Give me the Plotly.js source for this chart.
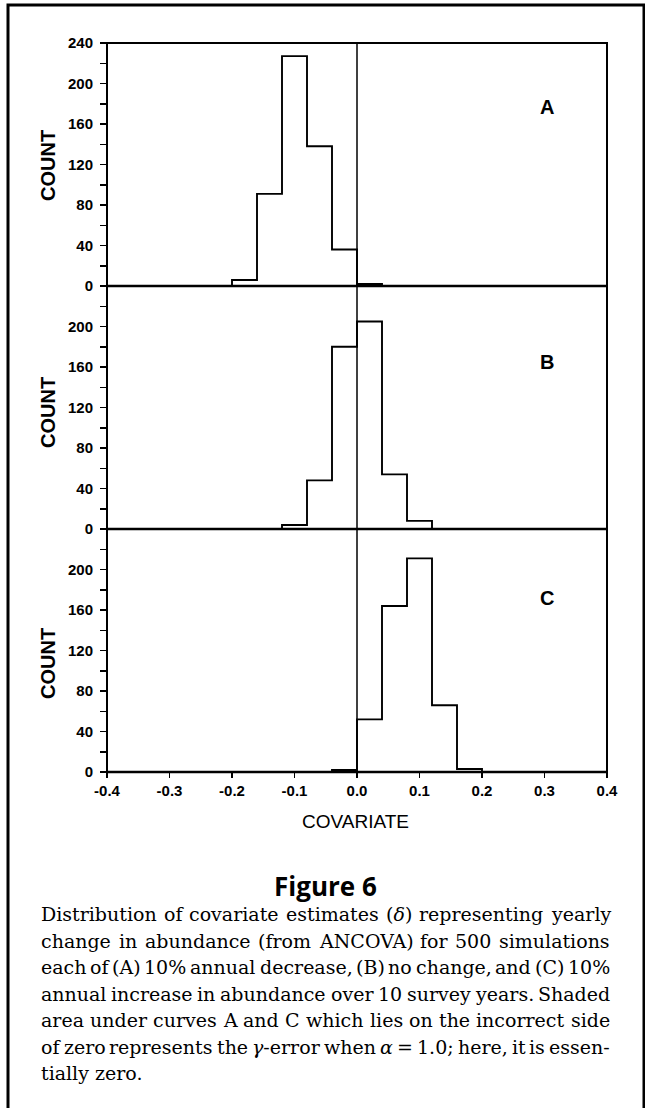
<!DOCTYPE html>
<html>
<head>
<meta charset="utf-8">
<script src="https://cdn.plot.ly/plotly-3.0.1.min.js"></script>
<style>
html,body{margin:0;padding:0;background:#fff;}
#chart{width:645px;height:1108px;}
</style>
</head>
<body>
<div id="chart"></div>
<script>
// ---- data ----
const edgesA = [-0.2, -0.16, -0.12, -0.08, -0.04, 0, 0.04];
const countsA = [6, 91, 227, 138, 36, 2];
const edgesB = [-0.12, -0.08, -0.04, 0, 0.04, 0.08, 0.12];
const countsB = [4, 48, 180, 205, 54, 8];
const edgesC = [-0.04, 0, 0.04, 0.08, 0.12, 0.16, 0.2];
const countsC = [2, 52, 164, 211, 66, 3];

const xTickVals = [-0.4, -0.3, -0.2, -0.1, 0.0, 0.1, 0.2, 0.3, 0.4];
const xTickText = ["-0.4", "-0.3", "-0.2", "-0.1", "0.0", "0.1", "0.2", "0.3", "0.4"];
const yTicksTop = [0, 40, 80, 120, 160, 200, 240];
const yTicksLower = [0, 40, 80, 120, 160, 200];
const yMinorTicks = [20, 60, 100, 140, 180, 220];
const panelLabels = ["A", "B", "C"];
const yTitle = "COUNT";
const xTitle = "COVARIATE";
const captionTitle = "Figure 6";
const captionLines = [
  "Distribution of covariate estimates (<i>δ</i>) representing yearly",
  "change in abundance (from ANCOVA) for 500 simulations",
  "each of (A) 10% annual decrease, (B) no change, and (C) 10%",
  "annual increase in abundance over 10 survey years. Shaded",
  "area under curves A and C which lies on the incorrect side",
  "of zero represents the <i>γ</i>-error when <i>α</i> = 1.0; here, it is essen-",
  "tially zero."
];

// ---- geometry ----
const W = 645, H = 1108;
const L = 107, R = 607, T = 43, B = 772;
const px = x => (x - L) / (R - L);
const py = y => (B - y) / (B - T);

function stepTrace(edges, counts, yaxis) {
  return {
    type: 'scatter', mode: 'lines',
    x: [edges[0]].concat(edges),
    y: [0].concat(counts, [0]),
    line: {shape: 'hv', color: '#000', width: 1.9},
    xaxis: 'x', yaxis: yaxis, hoverinfo: 'skip', showlegend: false
  };
}

const traces = [
  stepTrace(edgesA, countsA, 'y3'),
  stepTrace(edgesB, countsB, 'y2'),
  stepTrace(edgesC, countsC, 'y')
];

const sans = 'Liberation Sans, Arial, sans-serif';
const tickFont = {family: sans, size: 15, color: '#000', weight: 'bold'};

function yAxis(domain, tickvals) {
  return {
    domain: domain, range: [0, 240], anchor: 'x',
    tickmode: 'array', tickvals: tickvals,
    ticks: 'outside', ticklen: 6, tickwidth: 1.5, tickcolor: '#000',
    minor: {tickmode: 'array', tickvals: yMinorTicks, ticks: 'outside', ticklen: 6, tickwidth: 1.5, tickcolor: '#000'},
    showgrid: false, zeroline: false, showline: false,
    tickfont: tickFont, ticklabelstandoff: 4, fixedrange: true
  };
}

const annotations = [];
// COUNT titles
[166, 413, 664].forEach(yc => {
  annotations.push({xref: 'paper', yref: 'paper', x: px(48), y: py(yc), text: yTitle,
    textangle: -90, showarrow: false, xanchor: 'center', yanchor: 'middle',
    font: {family: sans, size: 20, color: '#000', weight: 'bold'}});
});
// panel letters
[[107, 0], [362, 1], [598, 2]].forEach(([yc, i]) => {
  annotations.push({xref: 'paper', yref: 'paper', x: px(547), y: py(yc), text: panelLabels[i],
    showarrow: false, xanchor: 'center', yanchor: 'middle',
    font: {family: sans, size: 20, color: '#000', weight: 'bold'}});
});
// x title
annotations.push({xref: 'paper', yref: 'paper', x: px(355), y: py(821), text: xTitle,
  showarrow: false, xanchor: 'center', yanchor: 'middle',
  font: {family: sans, size: 19, color: '#000'}});
// caption title
annotations.push({xref: 'paper', yref: 'paper', x: px(325), y: py(886), text: captionTitle,
  showarrow: false, xanchor: 'center', yanchor: 'middle',
  font: {family: 'Open Sans, Liberation Sans, sans-serif', size: 26, color: '#000', weight: 'bold'}});

// caption body, justified word by word
const capLeft = 40, capRight = 609, capTop = 914, capStep = 26.5;
let capSize = 19;
const capFamily = 'DejaVu Serif';
const cv = document.createElement('canvas').getContext('2d');
const strip = s => s.replace(/<[^>]+>/g, '');
function measure(s, size) { cv.font = size + "px '" + capFamily + "'"; return cv.measureText(strip(s)).width; }
// shrink if a justified line would not fit
for (let k = 0; k < 20; k++) {
  let ok = true;
  captionLines.slice(0, -1).forEach(line => {
    const words = line.split(' ');
    const tot = words.reduce((a, w) => a + measure(w, capSize), 0);
    if (tot + (words.length - 1) * capSize * 0.18 > capRight - capLeft) ok = false;
  });
  if (ok) break;
  capSize -= 0.25;
}
captionLines.forEach((line, li) => {
  const words = line.split(' ');
  const widths = words.map(w => measure(w, capSize));
  const tot = widths.reduce((a, b) => a + b, 0);
  const justify = li < captionLines.length - 1;
  const gap = justify ? (capRight - capLeft - tot) / (words.length - 1) : measure(' ', capSize);
  let x = capLeft;
  words.forEach((w, wi) => {
    annotations.push({xref: 'paper', yref: 'paper', x: px(x), y: py(capTop + li * capStep), text: w,
      showarrow: false, xanchor: 'left', yanchor: 'middle', borderpad: 0,
      font: {family: capFamily, size: capSize, color: '#000'}});
    x += widths[wi] + gap;
  });
});

const shapes = [
  {type: 'rect', xref: 'paper', yref: 'paper', x0: 0, x1: 1, y0: 0, y1: 1, line: {color: '#000', width: 2}},
  {type: 'line', xref: 'paper', yref: 'paper', x0: 0, x1: 1, y0: 1/3, y1: 1/3, line: {color: '#000', width: 2.5}},
  {type: 'line', xref: 'paper', yref: 'paper', x0: 0, x1: 1, y0: 2/3, y1: 2/3, line: {color: '#000', width: 2.5}},
  {type: 'line', xref: 'paper', yref: 'paper', x0: 0, x1: 1, y0: 0, y1: 0, line: {color: '#000', width: 2.5}},
  {type: 'line', xref: 'x', yref: 'paper', x0: 0, x1: 0, y0: 0, y1: 1, line: {color: '#000', width: 1.5}},
  {type: 'rect', xref: 'paper', yref: 'paper', x0: px(8), x1: px(644), y0: py(1120), y1: py(5), line: {color: '#000', width: 3}}
];

const layout = {
  width: W, height: H,
  margin: {l: L, r: W - R, t: T, b: H - B, pad: 0},
  paper_bgcolor: '#fff', plot_bgcolor: '#fff',
  showlegend: false,
  xaxis: {
    range: [-0.4, 0.4], anchor: 'y', tickmode: 'array', tickvals: xTickVals, ticktext: xTickText,
    ticks: 'outside', ticklen: 5, tickwidth: 1.5, tickcolor: '#000',
    showgrid: false, zeroline: false, showline: false, tickfont: tickFont, fixedrange: true
  },
  yaxis: yAxis([0, 1/3], yTicksLower),
  yaxis2: yAxis([1/3, 2/3], yTicksLower),
  yaxis3: yAxis([2/3, 1], yTicksTop),
  shapes: shapes,
  annotations: annotations
};

Plotly.newPlot('chart', traces, layout, {displayModeBar: false, staticPlot: true});
</script>
</body>
</html>
